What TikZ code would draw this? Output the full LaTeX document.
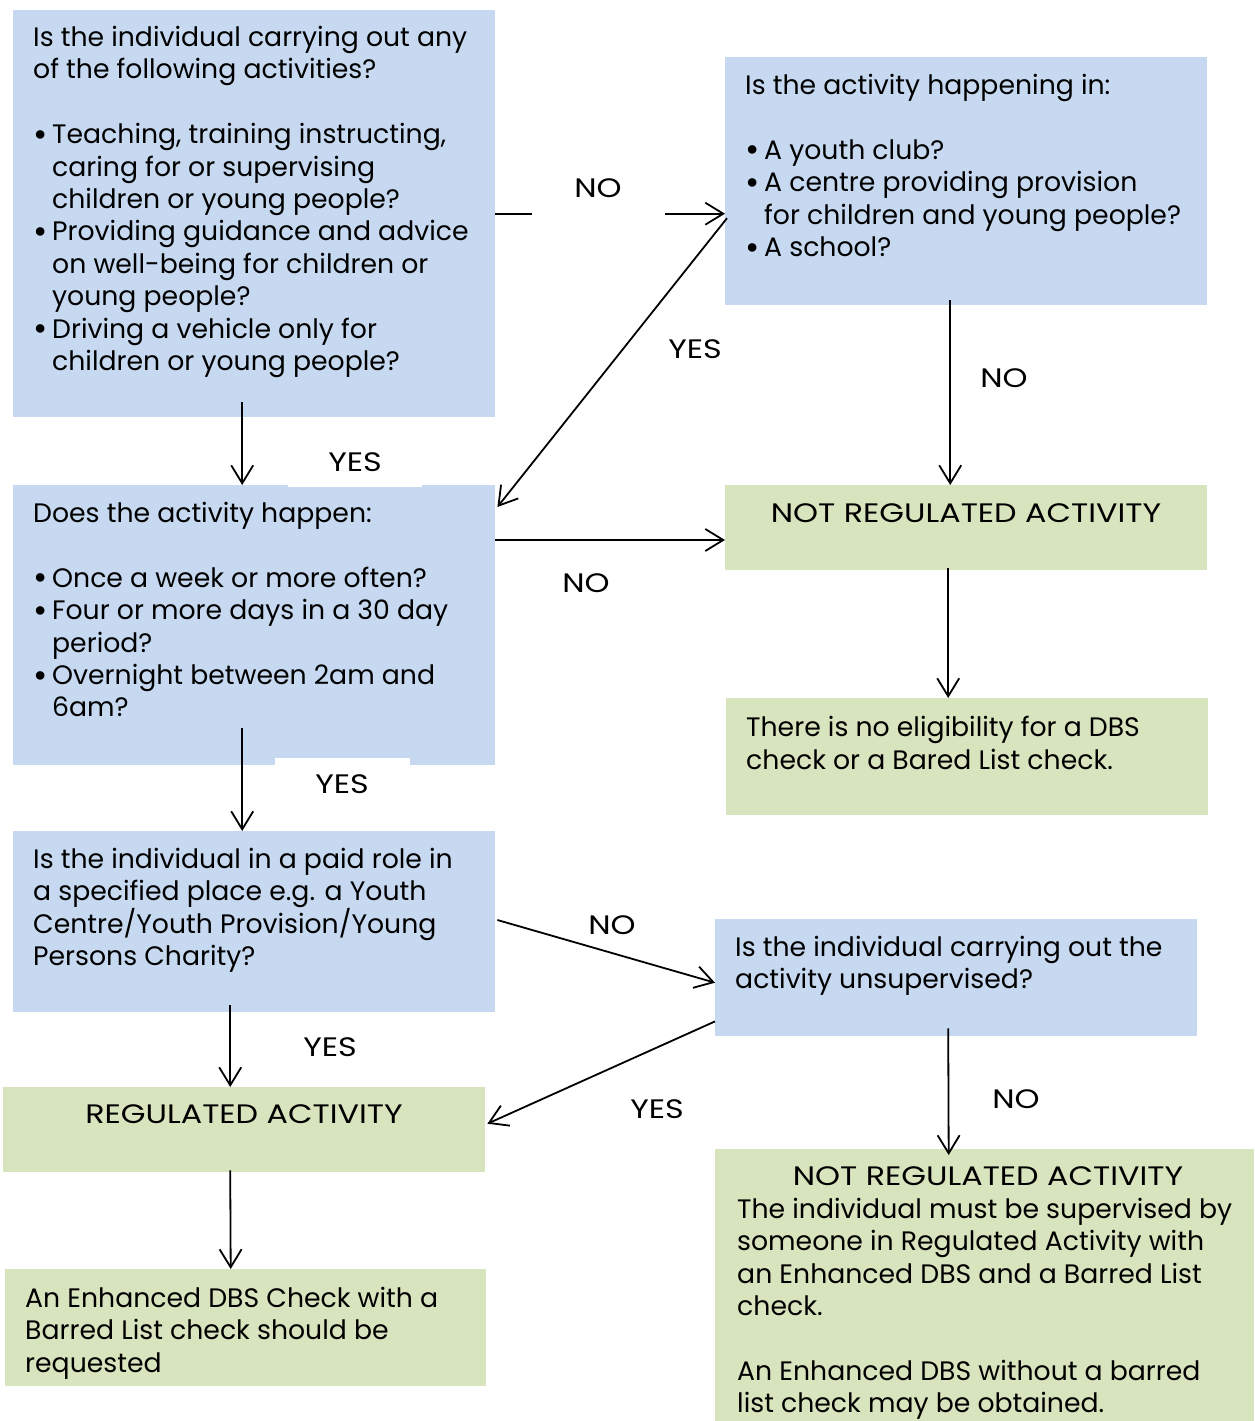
\documentclass[tikz,border=0pt]{standalone}
\usepackage{fontspec}
\setmainfont{Poppins}
\usetikzlibrary{arrows.meta,calc}
\definecolor{qblue}{RGB}{198,217,240}
\definecolor{agreen}{RGB}{216,228,189}
\newcommand{\bul}{\makebox[19pt][l]{\raisebox{-2.5pt}{\scalebox{1.3}{\textbullet}}}}
\newcommand{\ind}{\hspace*{19pt}}
\newcommand{\wide}[1]{\scalebox{1.19}[1]{#1}}

\begin{document}
\begin{tikzpicture}[x=1pt,y=-1pt,
  qbox/.style={fill=qblue,draw=none,anchor=north west,inner sep=0pt},
  abox/.style={fill=agreen,draw=none,anchor=north west,inner sep=0pt},
  txt/.style={anchor=north west,align=left,inner sep=0pt,font=\fontsize{26.7}{32.4}\selectfont},
  lbl/.style={inner sep=0pt,font=\fontsize{26.7}{32.4}\selectfont},
  arr/.style={line width=1.8pt,-{Straight Barb[length=18pt,width=22pt]}}]
\path[use as bounding box] (0,0) rectangle (1254,1421);
% boxes
\node[qbox,minimum width=482,minimum height=407] (q1) at (13,10) {};
\node[qbox,minimum width=482,minimum height=248] (q2) at (725,57) {};
\node[qbox,minimum width=482,minimum height=280] (q3) at (13,485) {};
\node[abox,minimum width=482,minimum height=85] (nra1) at (725,485) {};
\node[abox,minimum width=482,minimum height=117] (noelig) at (726,698) {};
\node[qbox,minimum width=482,minimum height=181] (q4) at (13,831) {};
\node[qbox,minimum width=482,minimum height=117] (q5) at (715,919) {};
\node[abox,minimum width=482,minimum height=85] (ra) at (3,1087) {};
\node[abox,minimum width=481,minimum height=117] (enh) at (5,1269) {};
\node[abox,minimum width=539,minimum height=272] (nra2) at (715,1149) {};
% texts
\node[txt] (t1) at (33,26) {Is the individual carrying out any\\
of the following activities?\\[32.4pt]
\bul Teaching, training instructing,\\
\ind caring for or supervising\\
\ind children or young people?\\
\bul Providing guidance and advice\\
\ind on well-being for children or\\
\ind young people?\\
\bul Driving a vehicle only for\\
\ind children or young people?};
\node[txt] (t2) at (745,74) {Is the activity happening in:\\[32.4pt]
\bul A youth club?\\
\bul A centre providing provision\\
\ind for children and young people?\\
\bul A school?};
\node[txt] (t3) at (33,502) {Does the activity happen:\\[32.4pt]
\bul Once a week or more often?\\
\bul Four or more days in a 30 day\\
\ind period?\\
\bul Overnight between 2am and\\
\ind 6am?};
\node[lbl] (t4) at (966,513) {\wide{NOT REGULATED ACTIVITY}};
\node[txt] (t5) at (746,716) {There is no eligibility for a DBS\\
check or a Bared List check.};
\node[txt] (t6) at (33,848) {Is the individual in a paid role in\\
a specified place e.g. a Youth\\
Centre/Youth Provision/Young\\
Persons Charity?};
\node[txt] (t7) at (735,936) {Is the individual carrying out the\\
activity unsupervised?};
\node[lbl] (t8) at (244,1114) {\wide{REGULATED ACTIVITY}};
\node[txt] (t9) at (25,1287) {An Enhanced DBS Check with a\\
Barred List check should be\\
requested};
\node[lbl] (t10) at (988,1176) {\wide{NOT REGULATED ACTIVITY}};
\node[txt] (t11) at (737,1198) {The individual must be supervised by\\
someone in Regulated Activity with\\
an Enhanced DBS and a Barred List\\
check.\\[32.4pt]
An Enhanced DBS without a barred\\
list check may be obtained.};
% connectors
\draw[arr] (q1.east) -- (q1.east -| q2.west);
\draw[arr] ($(q2.west)+(2,37)$) -- ($(q3.north east)+(2,22)$);
\draw[arr] ($(q1.south)+(-12,-15)$) -- ($(q3.north)+(-12,0)$);
\draw[arr] ($(q2.south)+(-16,-5)$) -- ($(nra1.north)+(-16,0)$);
\draw[arr] ($(q3.north east)+(0,55)$) -- ($(nra1.north west)+(0,55)$);
\draw[arr] ($(nra1.south)+(-18,-2)$) -- ($(noelig.north)+(-19,0)$);
\draw[arr] ($(q3.south)+(-12,-37)$) -- ($(q4.north)+(-12,0)$);
\draw[arr] ($(q4.north east)+(2,89)$) -- ($(q5.west)+(0,5)$);
\draw[arr] ($(q4.south)+(-24,-7)$) -- ($(ra.north)+(-14,0)$);
\draw[arr] ($(q5.south west)+(0,-15)$) -- ($(ra.east)+(2,-6)$);
\draw[arr] ($(q5.south)+(-8,-8)$) -- ($(nra2.north)+(-36,6)$);
\draw[arr] ($(ra.south)+(-14,-2)$) -- ($(enh.north)+(-15,0)$);
% labels
\node[lbl,fill=white,minimum width=133,text depth=18pt,anchor=base] (no1) at (598,197) {\wide{NO}};
\node[lbl] (yes1) at (695,349) {\wide{YES}};
\node[lbl] (no2) at (1004,378) {\wide{NO}};
\node[lbl,fill=white,minimum width=134,minimum height=50,anchor=south] (yes2) at (355,487) {\wide{YES}};
\node[lbl] (no3) at (586,583) {\wide{NO}};
\node[lbl,fill=white,minimum width=135,minimum height=52,anchor=north] (yes3) at (342,758) {\wide{YES}};
\node[lbl] (no4) at (612,925) {\wide{NO}};
\node[lbl] (yes4) at (330,1047) {\wide{YES}};
\node[lbl] (yes5) at (657,1109) {\wide{YES}};
\node[lbl] (no5) at (1016,1099) {\wide{NO}};
\end{tikzpicture}
\end{document}
